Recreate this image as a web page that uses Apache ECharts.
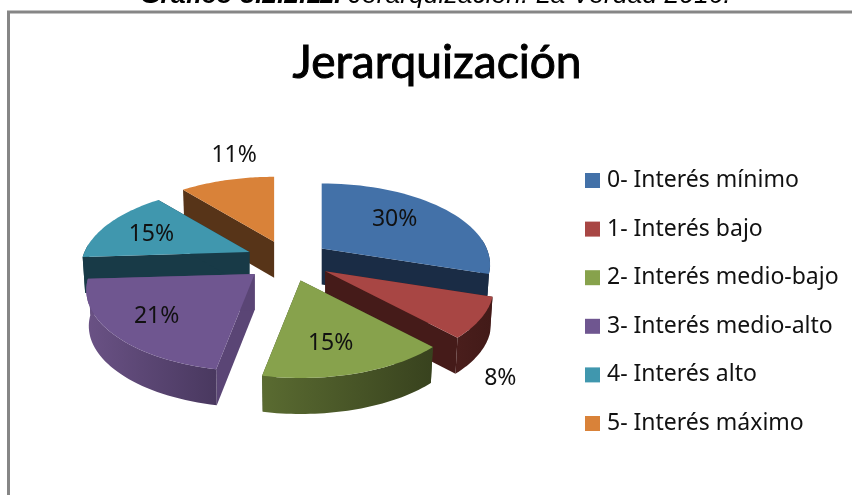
<!DOCTYPE html>
<html><head><meta charset="utf-8">
<style>html,body{margin:0;padding:0;background:#fff}#c{width:852px;height:495px}</style>
<script src="https://cdn.jsdelivr.net/npm/echarts@6/dist/echarts.min.js"></script>
</head><body><div id="c"></div>
<script>
const categories = ['0- Interés mínimo','1- Interés bajo','2- Interés medio-bajo','3- Interés medio-alto','4- Interés alto','5- Interés máximo'];
const values = [30,8,15,21,15,11];
const labels = ['30%','8%','15%','21%','15%','11%'];

const topColors  = ['#4371a8','#a84644','#87a24c','#6f5690','#4097ae','#d98239'];
const cutColors  = ['#1a2c45','#451b19','#3d4a22','#5a4575','#183a47','#573418'];
const rimLight   = ['#1a2c45','#4a1e1c','#5a6b31','#6a5285','#183a47','#6b4020'];
const rimDark    = ['#1a2c45','#421a18','#38421e','#49385f','#183a47','#573418'];
const labelOffsets = [[73,-29],[175,107],[30,63],[-98,43],[-98,-18],[-40,-86]];
const paintOrder = [1,3,5,4,2,0];   // back-to-front rank of each slice
const center = [288,260], explode = 0.26, A = 165, B = 78, K = 0.2, depth = 36, squeeze = 0.985;

const total = values.reduce((a,b)=>a+b,0);
const proj = (th,r)=>{ const u=Math.sin(th)*r, v=-Math.cos(th)*r, w=1-K*v; return [A*u/w, B*v/w]; };
const rad = p => p/total*2*Math.PI;

function slice(i){
  const start = values.slice(0,i).reduce((a,b)=>a+b,0), end = start+values[i];
  const a0 = rad(start), a1 = rad(end), mid=(a0+a1)/2;
  const o = proj(mid,explode), ax = center[0]+o[0], ay = center[1]+o[1];
  const top = th=>{const p=proj(th,1);return [ax+p[0],ay+p[1]];};
  const bot = th=>{const p=proj(th,1);return [ax+p[0]*squeeze,ay+p[1]+depth];};
  const n=40, topArc=[], botArc=[];
  for(let k=0;k<=n;k++){const t=a0+(a1-a0)*k/n;topArc.push(top(t));botArc.push(bot(t));}
  return {ax,ay,a0,a1,topArc,botArc};
}
function poly(points,fill){
  return {type:'polygon',shape:{points},style:{fill,stroke:null}};
}
function renderSlice(i){
  const s = slice(i), apexT=[s.ax,s.ay], apexB=[s.ax,s.ay+depth];
  const children=[];
  children.push(poly([apexT,s.topArc[0],s.botArc[0],apexB],cutColors[i]));
  children.push(poly([apexT,s.topArc[s.topArc.length-1],s.botArc[s.botArc.length-1],apexB],cutColors[i]));
  const front=[], frontB=[];
  s.topArc.forEach((p,k)=>{const t=s.a0+(s.a1-s.a0)*k/40; if(Math.cos(t)<0.12){front.push(p);frontB.push(s.botArc[k]);}});
  if(front.length>1){
    const grad=new echarts.graphic.LinearGradient(0,0,1,0,[{offset:0,color:rimLight[i]},{offset:1,color:rimDark[i]}]);
    children.push(poly(front.concat(frontB.reverse()),grad));
  }
  children.push(poly([apexT].concat(s.topArc),topColors[i]));
  const off=labelOffsets[i];
  children.push({type:'text',style:{x:s.ax+off[0],y:s.ay+off[1],text:labels[i],fill:'#111',font:'23px "Noto Sans"',align:'center',verticalAlign:'middle'}});
  return {type:'group',children};
}

const series = categories.map((name,i)=>({
  type:'custom',name,coordinateSystem:'none',z:2+paintOrder[i],
  itemStyle:{color:topColors[i]},
  data:[values[i]],
  renderItem:()=>renderSlice(i)
}));

const chart = echarts.init(document.getElementById('c'),null,{renderer:'canvas'});
chart.setOption({
  animation:false,
  color:topColors,
  title:{text:'Jerarquización',left:432,top:35,textAlign:'center',
    textStyle:{fontFamily:'Lato',fontSize:46,fontWeight:'normal',color:'#000',textBorderColor:'#000',textBorderWidth:1}},
  legend:{orient:'vertical',left:580,top:164,itemWidth:15,itemHeight:15,itemGap:25.6,icon:'rect',
    data:categories,selectedMode:false,
    textStyle:{fontFamily:'Noto Sans',fontSize:23,color:'#111',padding:[0,0,0,2]}},
  graphic:[
    {type:'polyline',shape:{points:[[8.5,495],[8.5,12],[852,12]]},style:{stroke:'#868686',lineWidth:3,fill:null},z:1},
    {type:'text',x:140,y:-18,style:{text:'{b|Gráfico 3.2.2.11.\u00a0}{i|Jerarquización. La Verdad 2016.}',fill:'#000',
      rich:{b:{font:'italic bold 26.5px "Liberation Sans"',fill:'#000'},i:{font:'italic 26.5px "Liberation Sans"',fill:'#000'}}},z:0}
  ],
  series
});
</script></body></html>
